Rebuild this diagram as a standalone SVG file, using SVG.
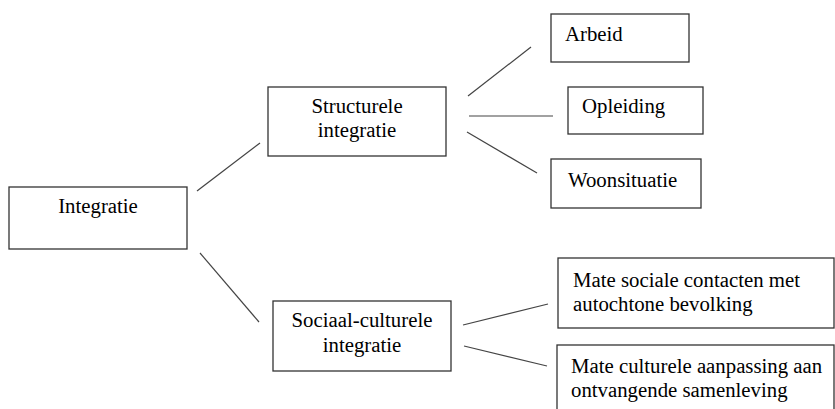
<svg xmlns="http://www.w3.org/2000/svg" width="835" height="409" viewBox="0 0 835 409">
<style>
.box{fill:#fff;stroke:#333;stroke-width:1.3}
.lbl{font-family:'Liberation Serif','DejaVu Serif',serif;font-size:20.8px;fill:#000}
.c{text-anchor:middle}
.conn line{stroke:#444;stroke-width:1.2}
</style>
<rect width="835" height="409" fill="#fff"/>
<g class="conn" id="connectors">
<line x1="197" y1="191" x2="260" y2="143"/>
<line x1="200" y1="253" x2="259" y2="322"/>
<line x1="468" y1="96" x2="531" y2="47"/>
<line x1="469" y1="116" x2="553" y2="116"/>
<line x1="467" y1="132" x2="537" y2="173"/>
<line x1="463" y1="325" x2="548" y2="304"/>
<line x1="464" y1="346" x2="547" y2="366"/>
</g>
<g id="integratie">
<rect class="box" x="9" y="187" width="178" height="62"/>
<text class="lbl c" font-family="Liberation Serif, DejaVu Serif, serif" x="98" y="213">Integratie</text>
</g>
<g id="structurele">
<rect class="box" x="268" y="87" width="178" height="69"/>
<text class="lbl c" x="357" y="113">Structurele</text>
<text class="lbl c" x="357" y="137">integratie</text>
</g>
<g id="sociaal">
<rect class="box" x="273" y="301" width="178" height="70"/>
<text class="lbl c" x="362" y="327">Sociaal-culturele</text>
<text class="lbl c" x="362" y="352">integratie</text>
</g>
<g id="arbeid">
<rect class="box" x="551" y="14" width="138" height="48"/>
<text class="lbl" x="565" y="41">Arbeid</text>
</g>
<g id="opleiding">
<rect class="box" x="568" y="87" width="135" height="47"/>
<text class="lbl" x="582" y="113">Opleiding</text>
</g>
<g id="woonsituatie">
<rect class="box" x="551" y="159" width="150" height="49"/>
<text class="lbl" x="568" y="187">Woonsituatie</text>
</g>
<g id="sociale-contacten">
<rect class="box" x="558" y="258" width="276" height="70"/>
<text class="lbl" x="573" y="287">Mate sociale contacten met</text>
<text class="lbl" x="573" y="311">autochtone bevolking</text>
</g>
<g id="culturele-aanpassing">
<rect class="box" x="557" y="345" width="277" height="80"/>
<text class="lbl" x="571" y="373">Mate culturele aanpassing aan</text>
<text class="lbl" x="571" y="397">ontvangende samenleving</text>
</g>
</svg>
